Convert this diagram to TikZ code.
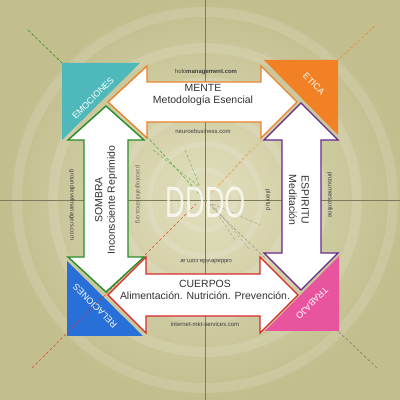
\documentclass[tikz,border=0pt]{standalone}
\usepackage{fontspec}
\setmainfont{Liberation Sans}
\definecolor{bgout}{RGB}{194,190,142}
\definecolor{bgin}{RGB}{226,223,190}
\definecolor{tealc}{RGB}{78,184,186}
\definecolor{orangec}{RGB}{242,128,36}
\definecolor{bluec}{RGB}{40,112,216}
\definecolor{pinkc}{RGB}{232,84,158}
\definecolor{menteC}{RGB}{232,132,44}
\definecolor{sombraC}{RGB}{40,140,40}
\definecolor{cuerpoC}{RGB}{214,40,40}
\definecolor{espirC}{RGB}{100,40,140}
\definecolor{txt}{RGB}{50,50,50}
\tikzset{
  arrowbox/.style={fill=white, line width=1.4bp, line join=miter},
  trilabel/.style={text=white, font=\fontsize{9}{10}\selectfont, inner sep=0pt},
  bigtxt/.style={text=txt, font=\fontsize{10.5}{12.5}\selectfont, align=center, inner sep=0pt},
  smalltxt/.style={text=black!75, font=\fontsize{6}{7}\selectfont, inner sep=0pt},
  guide/.style={draw=black!35!bgout, line width=0.4bp},
  dashline/.style={dash pattern=on 3bp off 2bp, line width=0.6bp}
}
\begin{document}
\begin{tikzpicture}[x=1bp,y=1bp]
\useasboundingbox (0,0) rectangle (400,400);
% background
\fill[bgout] (0,0) rectangle (400,400);
\shade[inner color=bgin, outer color=bgout] (205,200) circle (200);
\foreach \r/\w in {30/5,56/6,86/8,118/9,152/10,188/10}
  \draw[white, opacity=0.13, line width=\w bp] (205,200) circle (\r);
% guide lines
\coordinate (C) at (205,200);
\draw[guide] (0,200) -- (400,200);
\draw[guide] (205,0) -- (205,400);
% triangles
\fill[tealc] (62,337) -- (140,337) -- (62,260) -- cycle;
\fill[orangec] (264,340) -- (338,340) -- (338,265) -- cycle;
\fill[bluec] (67,139) -- (67,64) -- (143,64) -- cycle;
\fill[pinkc] (339,144) -- (339,69) -- (265,69) -- cycle;
% dashed diagonals
\coordinate (g1) at (28,370); \coordinate (g2) at (62,337);
\coordinate (g3) at (143,268); \coordinate (g4) at (202,203);
\coordinate (o1) at (375,374); \coordinate (o2) at (338,340);
\coordinate (o3) at (262,260); \coordinate (o4) at (209,205);
\coordinate (r1) at (32,32); \coordinate (r2) at (196,196);
\coordinate (k1) at (377,32); \coordinate (k2) at (338,69);
\coordinate (k3) at (265,142); \coordinate (k4) at (209,196);
\draw[dashline, draw=green!55!black, opacity=0.8] (g1) -- (g2);
\draw[dashline, draw=green!55!black, opacity=0.6] (g3) -- (g4);
\draw[dashline, draw=green!55!black, opacity=0.4] (153,250) -- (200,213);
\draw[dashline, draw=green!55!black, opacity=0.4] (185,250) -- (200,213);
\draw[dashline, draw=orangec, opacity=0.8] (o1) -- (o2);
\draw[dashline, draw=orangec, opacity=0.5] (o3) -- (o4);
\draw[dashline, draw=orangec, opacity=0.35] (250,250) -- (215,210);
\draw[dashline, draw=red!60!brown, opacity=0.8] (r1) -- (r2);
\draw[dashline, draw=black!55, opacity=0.8] (k1) -- (k2);
\draw[dashline, draw=black!55, opacity=0.6] (k3) -- (k4);
\draw[dashline, draw=black!55, opacity=0.4] (211,196) -- (235,160);
\draw[dashline, draw=black!55, opacity=0.4] (213,196) -- (260,175);
\draw[dashline, draw=black!55, opacity=0.4] (212,196) -- (250,150);
% arrows
\draw[arrowbox, draw=menteC] (108,298) -- (147,334) -- (147,318) -- (261,318) -- (261,334) -- (297,298) -- (261,262) -- (261,278) -- (147,278) -- (147,262) -- cycle;
\draw[arrowbox, draw=sombraC] (106,294) -- (144,260) -- (128,260) -- (128,143) -- (144,143) -- (106,108) -- (68,143) -- (84,143) -- (84,260) -- (68,260) -- cycle;
\draw[arrowbox, draw=cuerpoC] (108,105) -- (146,143) -- (146,126) -- (260,126) -- (260,143) -- (298,105) -- (260,67) -- (260,84) -- (146,84) -- (146,67) -- cycle;
\draw[arrowbox, draw=espirC] (301,297) -- (338,260) -- (321,260) -- (321,147) -- (338,147) -- (301,110) -- (264,147) -- (282,147) -- (282,260) -- (264,260) -- cycle;
% DDDO
\node[text=white, text opacity=0.75, font=\fontsize{44}{44}\selectfont, xscale=0.62, inner sep=0pt] (dddo) at (206,198) {DDDO};
% triangle labels
\node[trilabel, rotate=45] (emo) at (93,302) {EMOCIONES};
\node[trilabel, rotate=-45] (eti) at (314,316) {ETICA};
\node[trilabel, rotate=135] (rel) at (95,94) {RELACIONES};
\node[trilabel, rotate=-135] (tra) at (312,97) {TRABAJO};
% arrow labels
\node[bigtxt] (mente) at (203,305) {MENTE\\Metodología Esencial};
\node[bigtxt] (cuerpos) at (205,110) {CUERPOS\\Alimentación. Nutrición. Prevención.};
\node[bigtxt, rotate=90] (sombra) at (106,200) {SOMBRA\\Inconsciente Reprimido};
\node[bigtxt, rotate=-90] (espiritu) at (299,200) {ESPIRITU\\Meditación};
% small texts
\node[smalltxt] (holo) at (206,328) {holo\textbf{management.com}};
\node[smalltxt] (neuro) at (203,269) {neuroebusiness.com};
\node[smalltxt, rotate=180] (calid) at (206,138) {caldadevida.com.ar};
\node[smalltxt] (inter) at (205,76) {internet-mkt-services.com};
\node[smalltxt, rotate=-90] (ground) at (72,195) {groundlevelmanagers.com};
\node[smalltxt, rotate=-90, opacity=0.7] (psico) at (138,205) {psicologiaholistica.org};
\node[smalltxt, rotate=-90] (pleni) at (268,200) {plenitud};
\node[smalltxt, rotate=-90] (prosu) at (330,205) {prosumers.online};
\end{tikzpicture}
\end{document}
